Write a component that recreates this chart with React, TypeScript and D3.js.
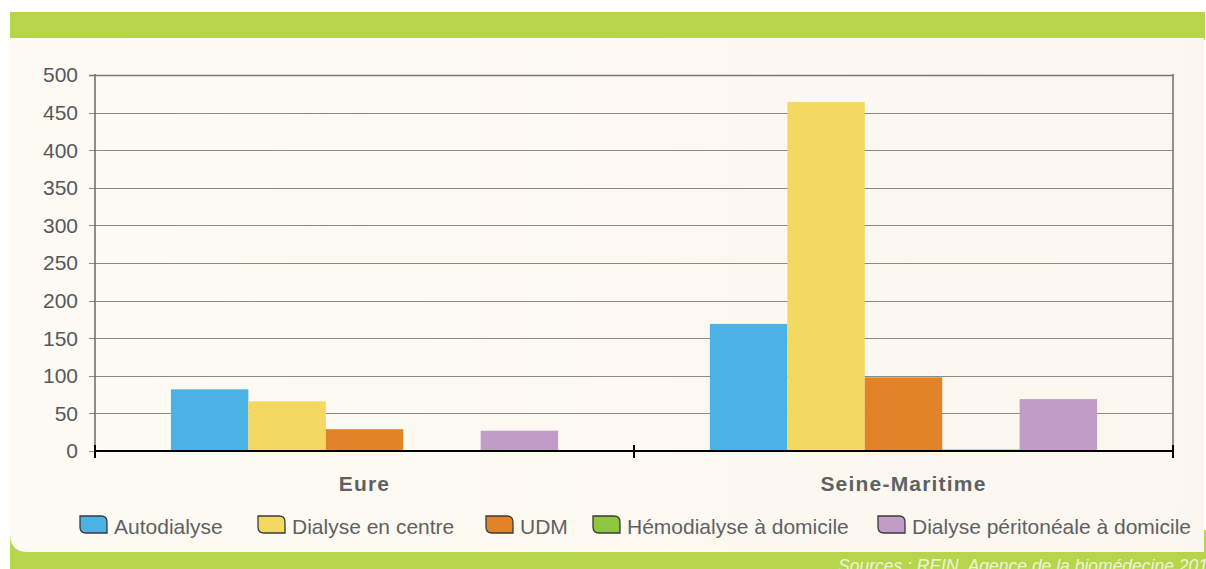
import * as d3 from "d3";
import React, { useEffect, useRef } from "react";

const categories = ["Eure", "Seine-Maritime"];
const series = [
  "Autodialyse",
  "Dialyse en centre",
  "UDM",
  "Hémodialyse à domicile",
  "Dialyse péritonéale à domicile",
];
const colors = ["#4ab2e4", "#f3d962", "#e2832a", "#8dc63f", "#c19cc6"];
const eureValues = [82, 66, 29, 1, 27];
const seineValues = [169, 464, 98, 2, 69];
const yTicks = [0, 50, 100, 150, 200, 250, 300, 350, 400, 450, 500];
const legendX = [79, 257, 485, 592, 877];

const W = 1206;
const H = 569;

function swatchPath(x, y, w, h, r) {
  return `M${x},${y} H${x + w - r} Q${x + w},${y} ${x + w},${y + r} V${y + h} H${x + r} Q${x},${y + h} ${x},${y + h - r} Z`;
}

export default function App() {
  const ref = useRef<SVGSVGElement | null>(null);

  useEffect(() => {
    const svg = d3.select(ref.current);
    svg.selectAll("*").remove();

    const defs = svg.append("defs");
    const grad = defs.append("linearGradient").attr("id", "bg").attr("x1", 0).attr("x2", 1);
    grad.append("stop").attr("offset", "0%").attr("stop-color", "#fdfbf3");
    grad.append("stop").attr("offset", "70%").attr("stop-color", "#fcf8ef");
    grad.append("stop").attr("offset", "100%").attr("stop-color", "#fbf6ef");

    // frame
    svg.append("rect").attr("x", 10).attr("y", 12).attr("width", W - 11).attr("height", 28).attr("fill", "#b6d54c");
    svg.append("rect").attr("x", 10).attr("y", 530).attr("width", W - 10).attr("height", 39).attr("fill", "#b6d54c");
    svg
      .append("path")
      .attr("d", `M10,38 H${W - 2} V552 H28 Q10,552 10,534 Z`)
      .attr("fill", "url(#bg)");

    const margin = { left: 95, right: 1173, top: 75, bottom: 451 };

    const x0 = d3.scaleBand().domain(categories).range([margin.left, margin.right]).padding(0);
    const x1 = d3.scaleBand().domain(series).range([0, x0.bandwidth()]).paddingInner(0).paddingOuter(0.98);
    const y = d3.scaleLinear().domain([0, 500]).range([margin.bottom, margin.top]);

    // gridlines
    svg
      .append("g")
      .selectAll("line")
      .data(yTicks.filter((t) => t > 0))
      .join("line")
      .attr("x1", margin.left - 6)
      .attr("x2", margin.right)
      .attr("y1", (d) => Math.round(y(d)) + 0.5)
      .attr("y2", (d) => Math.round(y(d)) + 0.5)
      .attr("stroke", (d) => (d === 500 ? "#777" : "#8a8a8a"))
      .attr("stroke-width", (d) => (d === 500 ? 1.6 : 1.1));

    svg
      .append("line")
      .attr("x1", margin.left - 6)
      .attr("x2", margin.left)
      .attr("y1", margin.bottom + 0.5)
      .attr("y2", margin.bottom + 0.5)
      .attr("stroke", "#8a8a8a");

    // left + right borders
    svg.append("line").attr("x1", margin.left).attr("x2", margin.left).attr("y1", margin.top - 1).attr("y2", margin.bottom).attr("stroke", "#6a6a6a").attr("stroke-width", 1.5);
    svg.append("line").attr("x1", margin.right).attr("x2", margin.right).attr("y1", margin.top - 1).attr("y2", margin.bottom).attr("stroke", "#777").attr("stroke-width", 1.6);

    const font = "Liberation Sans, Arial, sans-serif";

    // y labels
    svg
      .append("g")
      .selectAll("text")
      .data(yTicks)
      .join("text")
      .attr("x", 78)
      .attr("y", (d) => y(d))
      .attr("dy", "0.35em")
      .attr("text-anchor", "end")
      .attr("font-family", font)
      .attr("font-size", 21)
      .attr("fill", "#55585b")
      .text((d) => d);

    // bars
    const data = categories.map((c, i) => ({ cat: c, values: i === 0 ? eureValues : seineValues }));
    svg
      .append("g")
      .selectAll("g")
      .data(data)
      .join("g")
      .attr("transform", (d) => `translate(${x0(d.cat)},0)`)
      .selectAll("rect")
      .data((d) => d.values.map((v, i) => ({ key: series[i], v, c: colors[i] })))
      .join("rect")
      .attr("x", (d) => x1(d.key))
      .attr("width", x1.bandwidth())
      .attr("y", (d) => y(d.v))
      .attr("height", (d) => y(0) - y(d.v))
      .attr("fill", (d) => d.c);

    // x axis
    svg.append("line").attr("x1", margin.left - 1).attr("x2", margin.right + 1).attr("y1", margin.bottom).attr("y2", margin.bottom).attr("stroke", "#000").attr("stroke-width", 2);
    const tickXs = [margin.left, ...categories.map((c) => x0(c) + x0.bandwidth())];
    svg
      .append("g")
      .selectAll("line")
      .data(tickXs)
      .join("line")
      .attr("x1", (d) => d)
      .attr("x2", (d) => d)
      .attr("y1", margin.bottom - 6)
      .attr("y2", margin.bottom + 7)
      .attr("stroke", "#000")
      .attr("stroke-width", 2);

    svg
      .append("g")
      .selectAll("text")
      .data(categories)
      .join("text")
      .attr("x", (d) => x0(d) + x0.bandwidth() / 2)
      .attr("y", 491)
      .attr("text-anchor", "middle")
      .attr("font-family", font)
      .attr("font-weight", "bold")
      .attr("font-size", 21)
      .attr("letter-spacing", 1.2)
      .attr("fill", "#5e6164")
      .text((d) => d);

    // legend
    const lg = svg
      .append("g")
      .selectAll("g")
      .data(series)
      .join("g")
      .attr("transform", (d, i) => `translate(${legendX[i]},0)`);
    lg.append("path")
      .attr("d", swatchPath(1, 516, 27, 17, 6))
      .attr("fill", (d, i) => colors[i])
      .attr("stroke", "#3a3a3a")
      .attr("stroke-width", 1.3);
    lg.append("text")
      .attr("x", 35)
      .attr("y", 534)
      .attr("font-family", font)
      .attr("font-size", 21)
      .attr("fill", "#5e6164")
      .text((d) => d);

    svg
      .append("text")
      .attr("x", 838)
      .attr("y", 572)
      .attr("font-family", font)
      .attr("font-style", "italic")
      .attr("font-size", 17.5)
      .attr("fill", "#eef4d6")
      .text("Sources : REIN, Agence de la biomédecine 2011");
  }, []);

  return (
    <svg
      ref={ref}
      width={W}
      height={H}
      style={{ position: "absolute", left: 0, top: 0, background: "#fff" }}
    />
  );
}
